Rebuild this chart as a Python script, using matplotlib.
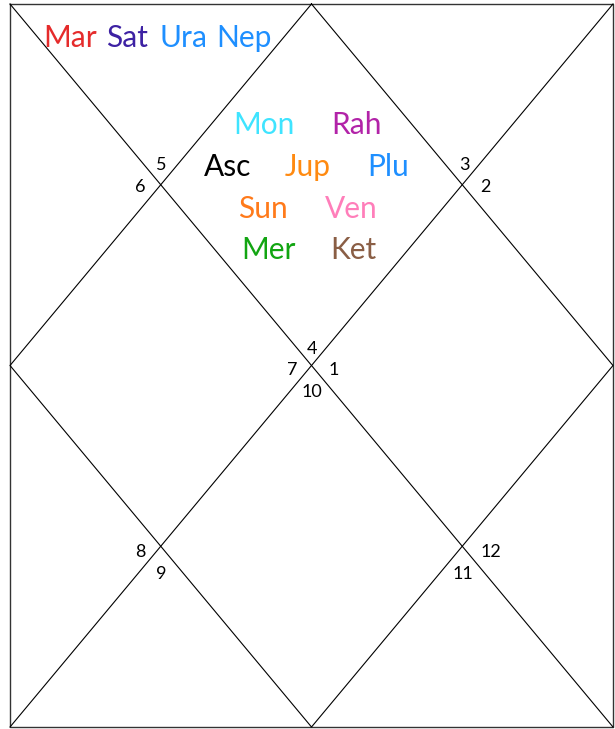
import matplotlib.pyplot as plt

# chart box in pixel units
left, right, top, bottom = 10, 613, 4, 727

# planets: name, colour, position (pixel centre)
planets = ["Mar", "Sat", "Ura", "Nep", "Mon", "Rah", "Asc", "Jup", "Plu",
           "Sun", "Ven", "Mer", "Ket"]
planet_colors = ["#e52b2b", "#3d21a3", "#1e8fff", "#1e8fff", "#3fe4ff", "#b223a8",
                 "#000000", "#ff8a10", "#1e8fff", "#ff7a1a", "#ff7eba",
                 "#12a512", "#8a5e45"]
planet_xy = [(70, 38), (127, 38), (184, 38), (244, 38),
             (264, 125), (357, 125),
             (228, 167), (308, 167), (388, 167),
             (263, 209), (351, 209),
             (268, 250), (353, 250)]

houses = ["5", "6", "3", "2", "4", "7", "1", "10", "8", "9", "12", "11"]
house_xy = [(161, 165), (140, 187), (464, 165), (485, 187),
            (312, 349), (292, 370), (334, 370), (312, 392),
            (140, 552), (161, 574), (491, 552), (463, 574)]

fig = plt.figure(figsize=(6.15, 7.29), dpi=100)
ax = fig.add_axes([0, 0, 1, 1])
ax.set_xlim(0, 615)
ax.set_ylim(729, 0)
ax.axis("off")

cx, cy = (left + right) / 2, (top + bottom) / 2

# outer box
ax.plot([left, right, right, left, left], [top, top, bottom, bottom, top],
        color="#333333", lw=1.0)
# diagonals
ax.plot([left, right], [top, bottom], color="black", lw=0.8)
ax.plot([right, left], [top, bottom], color="black", lw=0.8)
# inner diamond
ax.plot([cx, right, cx, left, cx], [top, cy, bottom, cy, top], color="black", lw=0.8)

for name, col, (x, y) in zip(planets, planet_colors, planet_xy):
    ax.text(x, y, name, color=col, fontsize=21.5, family="Lato",
            ha="center", va="center")

for h, (x, y) in zip(houses, house_xy):
    ax.text(x, y, h, color="black", fontsize=13, family="Lato",
            ha="center", va="center")

fig.savefig("out.png", dpi=100)
